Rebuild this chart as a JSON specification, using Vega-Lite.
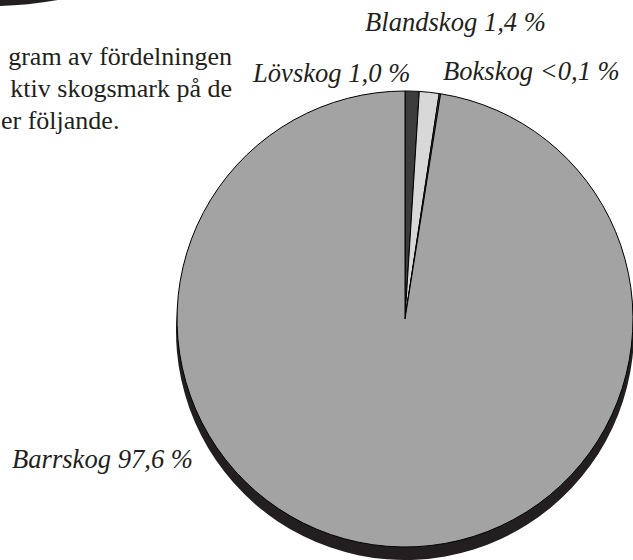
{
  "$schema": "https://vega.github.io/schema/vega-lite/v6.json",
  "width": 456,
  "height": 456,
  "autosize": {"type": "none"},
  "padding": {"left": 177, "top": 91, "right": 0, "bottom": 13},
  "background": "white",
  "config": {"view": {"stroke": null}},
  "datasets": {
    "skog": [
      {"typ": "Lövskog", "andel": 1.0, "nr": 1},
      {"typ": "Blandskog", "andel": 1.4, "nr": 2},
      {"typ": "Bokskog", "andel": 0.1, "nr": 3},
      {"typ": "Barrskog", "andel": 97.6, "nr": 4}
    ],
    "etiketter": [
      {"text": "Lövskog 1,0 %", "x": 253, "y": 82},
      {"text": "Blandskog 1,4 %", "x": 365, "y": 31},
      {"text": "Bokskog <0,1 %", "x": 443, "y": 80},
      {"text": "Barrskog 97,6 %", "x": 12, "y": 468}
    ],
    "stycke": [
      {"text": "gram av fördelningen", "x": 232, "y": 65},
      {"text": "ktiv skogsmark på de", "x": 232, "y": 97}
    ],
    "stycke2": [
      {"text": "er följande.", "x": 1, "y": 129}
    ],
    "ornament": [
      {"x": -10, "y": -380}
    ]
  },
  "layer": [
    {
      "data": {"name": "ornament"},
      "mark": {"type": "point", "shape": "circle", "filled": true, "color": "#231f20", "opacity": 1, "size": 596000},
      "encoding": {
        "x": {"field": "x", "type": "quantitative", "scale": {"domain": [177, 633], "nice": false, "zero": false}, "axis": null},
        "y": {"field": "y", "type": "quantitative", "scale": {"domain": [91, 547], "reverse": true, "nice": false, "zero": false}, "axis": null}
      }
    },
    {
      "data": {"name": "skog"},
      "mark": {"type": "arc", "outerRadius": 229, "yOffset": 12, "fill": "#231f20", "stroke": null},
      "encoding": {
        "theta": {"field": "andel", "type": "quantitative", "stack": true},
        "order": {"field": "nr", "type": "quantitative"}
      }
    },
    {
      "data": {"name": "skog"},
      "mark": {"type": "arc", "outerRadius": 228, "stroke": "#000000", "strokeWidth": 1},
      "encoding": {
        "theta": {"field": "andel", "type": "quantitative", "stack": true},
        "order": {"field": "nr", "type": "quantitative"},
        "color": {
          "field": "typ",
          "type": "nominal",
          "scale": {"domain": ["Lövskog", "Blandskog", "Bokskog", "Barrskog"], "range": ["#3c3c3c", "#d8d8d8", "#6e6e6e", "#a3a3a3"]},
          "legend": null
        }
      }
    },
    {
      "data": {"name": "etiketter"},
      "mark": {"type": "text", "font": "Liberation Serif", "fontSize": 26.6, "fontStyle": "italic", "align": "left", "baseline": "alphabetic", "color": "#231f20"},
      "encoding": {
        "x": {"field": "x", "type": "quantitative", "axis": null},
        "y": {"field": "y", "type": "quantitative", "axis": null},
        "text": {"field": "text"}
      }
    },
    {
      "data": {"name": "stycke"},
      "mark": {"type": "text", "font": "Liberation Serif", "fontSize": 26, "align": "right", "baseline": "alphabetic", "color": "#231f20"},
      "encoding": {
        "x": {"field": "x", "type": "quantitative", "axis": null},
        "y": {"field": "y", "type": "quantitative", "axis": null},
        "text": {"field": "text"}
      }
    },
    {
      "data": {"name": "stycke2"},
      "mark": {"type": "text", "font": "Liberation Serif", "fontSize": 26, "align": "left", "baseline": "alphabetic", "color": "#231f20"},
      "encoding": {
        "x": {"field": "x", "type": "quantitative", "axis": null},
        "y": {"field": "y", "type": "quantitative", "axis": null},
        "text": {"field": "text"}
      }
    }
  ]
}
